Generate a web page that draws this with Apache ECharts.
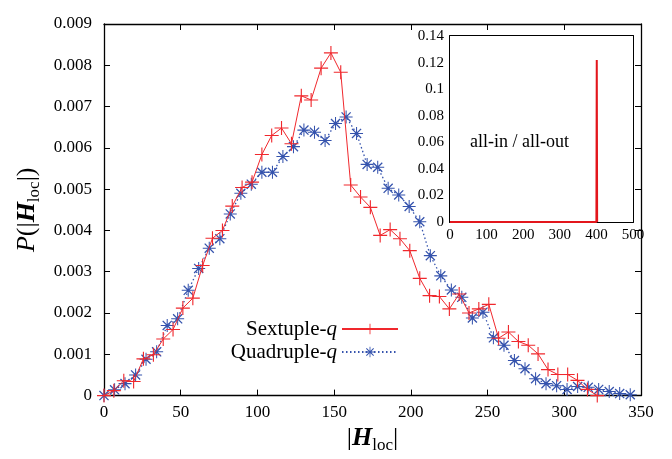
<!DOCTYPE html>
<html>
<head>
<meta charset="utf-8">
<script src="https://cdn.jsdelivr.net/npm/echarts@6/dist/echarts.min.js"></script>
<style>html,body{margin:0;padding:0;background:#fff;}#c{width:672px;height:459px;}</style>
</head>
<body>
<div id="c"></div>
<script>
// ---- data ----
const sextupleX = [0, 6.4, 12.9, 19.3, 25.7, 32.2, 38.6, 45, 51.4, 57.9, 64.3, 70.7, 77.2, 83.6, 90, 96.5, 102.9, 109.3, 115.7, 122.2, 128.6, 135, 141.5, 147.9, 154.3, 160.8, 167.2, 173.6, 180, 186.5, 192.9, 199.3, 205.8, 212.2, 218.6, 225.1, 231.5, 237.9, 244.3, 250.8, 257.2, 263.6, 270.1, 276.5, 282.9, 289.4, 295.8, 302.2, 308.6, 315.1, 321.5];
const sextupleY = [0, 0.00012, 0.00036, 0.00034, 0.00089, 0.00099, 0.00137, 0.0016, 0.00212, 0.00236, 0.00315, 0.00381, 0.0040, 0.00459, 0.00504, 0.00517, 0.00584, 0.0063, 0.00648, 0.0061, 0.00726, 0.00716, 0.00793, 0.0083, 0.00783, 0.0051, 0.00481, 0.00456, 0.00388, 0.00402, 0.0038, 0.00351, 0.00284, 0.00242, 0.0024, 0.0021, 0.00246, 0.002, 0.0021, 0.00221, 0.00139, 0.00154, 0.00131, 0.00122, 0.00101, 0.00063, 0.00051, 0.00051, 0.00037, 0.00015, 0];
const quadrupleX = [0, 6.9, 13.7, 20.6, 27.4, 34.3, 41.2, 48, 54.9, 61.7, 68.6, 75.5, 82.3, 89.2, 96, 102.9, 109.8, 116.6, 123.5, 130.3, 137.2, 144.1, 150.9, 157.8, 164.6, 171.5, 178.4, 185.2, 192.1, 198.9, 205.8, 212.7, 219.5, 226.4, 233.2, 240.1, 247, 253.8, 260.7, 267.5, 274.4, 281.3, 288.1, 295, 301.8, 308.7, 315.6, 322.4, 329.3, 336.1, 343];
const quadrupleY = [0, 0.00014, 0.00029, 0.0005, 0.00088, 0.00106, 0.0017, 0.00186, 0.00255, 0.00308, 0.00357, 0.0038, 0.0044, 0.0049, 0.00512, 0.00541, 0.00541, 0.00579, 0.00603, 0.00643, 0.00638, 0.00618, 0.00659, 0.00675, 0.00635, 0.0056, 0.00553, 0.00502, 0.00486, 0.00458, 0.00421, 0.00339, 0.0029, 0.00256, 0.00238, 0.00188, 0.00202, 0.0014, 0.00122, 0.00085, 0.00065, 0.00041, 0.00029, 0.00024, 0.00015, 0.00022, 0.0002, 0.00015, 0.0001, 0.00005, 0.00002];
const insetX = [0, 400, 401, 402];
const insetY = [0, 0, 0.122, 0];
const seriesNames = ['Sextuple-q', 'Quadruple-q'];
const insetLabel = 'all-in / all-out';

// ---- styling ----
const FONT = 'Liberation Serif';
const PLUS = 'path://M-0.08,-1 L0.08,-1 L0.08,-0.08 L1,-0.08 L1,0.08 L0.08,0.08 L0.08,1 L-0.08,1 L-0.08,0.08 L-1,0.08 L-1,-0.08 L-0.08,-0.08 Z';
const STAR = 'path://M-0.08,-1 L0.08,-1 L0.08,1 L-0.08,1 Z M-1,-0.08 L1,-0.08 L1,0.08 L-1,0.08 Z ' +
  'M-0.63,-0.77 L0.77,0.63 L0.63,0.77 L-0.77,-0.63 Z M-0.77,0.63 L0.63,-0.77 L0.77,-0.63 L-0.63,0.77 Z ' +
  'M-0.22,-0.22 L0.22,-0.22 L0.22,0.22 L-0.22,0.22 Z';
const RED = '#f0282d';
const BLUE = '#3553ad';

const zip = (xs, ys) => xs.map((x, i) => [x, ys[i]]);

function axisBase(extra) {
  return Object.assign({
    type: 'value',
    axisLine: { show: true, onZero: false, lineStyle: { color: '#000', width: 1.3 } },
    axisTick: { show: true, inside: true, length: 6, lineStyle: { color: '#000', width: 1 } },
    splitLine: { show: false },
    axisLabel: { color: '#000', fontFamily: FONT, fontSize: 17 }
  }, extra);
}
const insetLine = { show: true, onZero: false, lineStyle: { color: '#000', width: 2 } };
const insetTick = { show: true, inside: true, length: 4, lineStyle: { color: '#000', width: 1 } };

const nameRich = {
  n: { fontFamily: FONT, fontSize: 26, color: '#000' },
  p: { fontFamily: FONT, fontSize: 26, fontStyle: 'italic', color: '#000' },
  b: { fontFamily: FONT, fontSize: 26, fontWeight: 'bold', fontStyle: 'italic', color: '#000' },
  s: { fontFamily: FONT, fontSize: 17, color: '#000', verticalAlign: 'bottom', padding: [14, 0, 0, 0] }
};

const chart = echarts.init(document.getElementById('c'), null, { renderer: 'canvas' });
const option = {
  backgroundColor: '#fff',
  animation: false,
  grid: [
    { left: 104, top: 24, right: 31, bottom: 61, show: false },
    { left: 450, top: 36, right: 39, bottom: 237, show: true, backgroundColor: '#fff', borderWidth: 0, z: 5 }
  ],
  xAxis: [
    axisBase({ gridIndex: 0, min: 0, max: 350, interval: 50, position: 'bottom',
      axisLabel: { color: '#000', fontFamily: FONT, fontSize: 17, margin: 8 },
      name: '{n||}{b|H}{s|loc}{n||}', nameLocation: 'middle', nameGap: 27,
      nameTextStyle: { fontFamily: FONT, rich: nameRich } }),
    axisBase({ gridIndex: 0, min: 0, max: 350, interval: 50, position: 'top', axisLabel: { show: false } }),
    axisBase({ gridIndex: 1, min: 0, max: 500, interval: 100, position: 'bottom',
      axisLine: insetLine, axisTick: insetTick,
      axisLabel: { color: '#000', fontFamily: FONT, fontSize: 15, margin: 6 } }),
    axisBase({ gridIndex: 1, min: 0, max: 500, interval: 100, position: 'top',
      axisLine: insetLine, axisTick: insetTick, axisLabel: { show: false } })
  ],
  yAxis: [
    axisBase({ gridIndex: 0, min: 0, max: 0.009, interval: 0.001, position: 'left',
      axisLabel: { color: '#000', fontFamily: FONT, fontSize: 17, margin: 12,
        formatter: v => v === 0 ? '0' : v.toFixed(3) },
      name: '{p|P}{n|(|}{b|H}{s|loc}{n||)}', nameLocation: 'middle', nameGap: 52, nameRotate: 90,
      nameTextStyle: { fontFamily: FONT, rich: nameRich } }),
    axisBase({ gridIndex: 0, min: 0, max: 0.009, interval: 0.001, position: 'right', axisLabel: { show: false } }),
    axisBase({ gridIndex: 1, min: 0, max: 0.14, interval: 0.02, position: 'left',
      axisLine: insetLine, axisTick: insetTick,
      axisLabel: { color: '#000', fontFamily: FONT, fontSize: 15, margin: 6,
        formatter: v => v === 0 ? '0' : String(parseFloat(v.toFixed(2))) } }),
    axisBase({ gridIndex: 1, min: 0, max: 0.14, interval: 0.02, position: 'right',
      axisLine: insetLine, axisTick: insetTick, axisLabel: { show: false } })
  ],
  legend: {
    data: seriesNames,
    orient: 'vertical',
    align: 'right',
    right: 268,
    top: 313,
    itemWidth: 56,
    itemHeight: 13,
    itemGap: 1,
    formatter: name => '{t|' + name.slice(0, -1) + '}{i|' + name.slice(-1) + '}',
    textStyle: { fontFamily: FONT, fontSize: 21, lineHeight: 22, color: '#000', rich: {
      t: { fontFamily: FONT, fontSize: 21, lineHeight: 22, color: '#000' },
      i: { fontFamily: FONT, fontSize: 21, lineHeight: 22, fontStyle: 'italic', color: '#000' }
    } }
  },
  series: [
    {
      name: seriesNames[0], type: 'line', xAxisIndex: 0, yAxisIndex: 0,
      data: zip(sextupleX, sextupleY),
      symbol: PLUS, symbolSize: 14,
      itemStyle: { color: RED, borderWidth: 0 },
      lineStyle: { color: RED, width: 1 },
      z: 3
    },
    {
      name: seriesNames[1], type: 'line', xAxisIndex: 0, yAxisIndex: 0,
      data: zip(quadrupleX, quadrupleY),
      symbol: STAR, symbolSize: 13,
      itemStyle: { color: BLUE, borderWidth: 0 },
      lineStyle: { color: BLUE, width: 1.3, type: [1.5, 2.5] },
      z: 2
    },
    {
      name: 'inset', type: 'line', xAxisIndex: 2, yAxisIndex: 2,
      data: zip(insetX, insetY),
      symbol: 'none',
      lineStyle: { color: '#e3161c', width: 2 },
      z: 6
    }
  ]
};
chart.setOption(option);
// inset annotation text, placed in data coordinates of the inset
const p = chart.convertToPixel({ xAxisIndex: 2, yAxisIndex: 2 }, [190, 0.06]);
chart.setOption({ graphic: [{ type: 'text', x: p[0], y: p[1], z: 10,
  style: { text: insetLabel, fontFamily: FONT, fontSize: 18, fill: '#000', align: 'center', verticalAlign: 'middle' } }] });
</script>
</body>
</html>
